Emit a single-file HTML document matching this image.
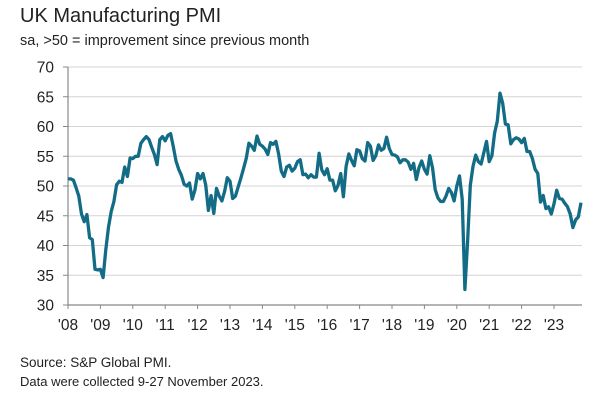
<!DOCTYPE html>
<html><head><meta charset="utf-8"><style>
body{margin:0;background:#fff;font-family:"Liberation Sans",sans-serif;}
svg{display:block}
</style></head><body>
<svg id="c" width="600" height="400">
<text x="20" y="22" font-size="20" fill="#222">UK Manufacturing PMI</text>
<text x="20" y="45" font-size="14.5" fill="#222">sa, &gt;50 = improvement since previous month</text>
<text x="20" y="367" font-size="13.5" fill="#222">Source: S&amp;P Global PMI.</text>
<text x="20" y="386" font-size="13" fill="#222">Data were collected 9-27 November 2023.</text>
<g id="grid"></g><g id="axes"></g><g id="plot"></g>
</svg>
<script>
const yTicks=[30,35,40,45,50,55,60,65,70];
const years=["'08","'09","'10","'11","'12","'13","'14","'15","'16","'17","'18","'19","'20","'21","'22","'23"];
const pmi2008=[51.2,51.2,51.0,49.7,48.3,45.3,44.0,45.2,41.3,41.0,36.0,35.9];
const pmi2009=[36.0,34.6,39.3,43.1,45.7,47.4,50.2,50.8,50.6,53.2,51.6,54.7];
const pmi2010=[54.6,55.0,55.0,57.2,57.8,58.3,57.8,56.5,55.3,53.6,57.8,58.3];
const pmi2011=[57.6,58.5,58.8,56.6,54.2,52.8,51.8,50.3,50.0,50.5,47.8,49.3];
const pmi2012=[52.1,51.2,52.1,50.2,45.9,48.4,45.4,49.6,48.3,47.5,49.1,51.4];
const pmi2013=[50.8,47.9,48.3,49.8,51.3,52.9,54.6,57.2,56.7,56.0,58.4,57.0];
const pmi2014=[56.7,56.2,55.3,57.3,57.0,57.5,55.4,52.5,51.6,53.2,53.5,52.5];
const pmi2015=[53.0,54.1,54.4,51.9,52.0,51.4,51.9,51.5,51.5,55.5,52.7,51.9];
const pmi2016=[52.9,51.0,51.0,49.2,50.1,52.1,48.2,53.3,55.4,54.3,53.4,56.1];
const pmi2017=[55.9,54.6,54.2,57.3,56.7,54.3,55.1,56.9,56.0,56.3,58.2,56.3];
const pmi2018=[55.3,55.2,54.9,53.9,54.4,54.4,54.0,52.8,53.8,51.1,53.1,54.2];
const pmi2019=[52.8,52.0,55.1,53.1,49.4,48.0,47.4,47.4,48.3,49.6,48.9,47.5];
const pmi2020=[50.0,51.7,47.8,32.6,40.7,50.1,53.3,55.2,54.1,53.7,55.6,57.5];
const pmi2021=[54.1,55.1,58.9,60.9,65.6,63.9,60.4,60.3,57.1,57.8,58.1,57.9];
const pmi2022=[57.3,58.0,55.8,55.8,54.6,52.8,52.1,47.3,48.4,46.2,46.5,45.3];
const pmi2023=[47.0,49.3,47.9,47.8,47.1,46.5,45.3,43.0,44.3,44.8,47.2];
const values=[].concat(pmi2008,pmi2009,pmi2010,pmi2011,pmi2012,pmi2013,pmi2014,pmi2015,pmi2016,pmi2017,pmi2018,pmi2019,pmi2020,pmi2021,pmi2022,pmi2023);
const NS="http://www.w3.org/2000/svg";
const x0=68,yearW=32.4,plotR=582;
const xs=m=>x0+m*yearW/12;
const ys=v=>305-(v-30)*(238/40);
function mk(t,a,p){const e=document.createElementNS(NS,t);for(const k in a)e.setAttribute(k,a[k]);p.appendChild(e);return e;}
const grid=document.getElementById('grid'),axes=document.getElementById('axes'),plot=document.getElementById('plot');
yTicks.forEach(v=>{
  if(v>30){const g=mk('line',{x1:x0,x2:plotR,y1:ys(v),y2:ys(v),stroke:'#d4d4d4','stroke-width':1},grid);
  
  }
  const t=mk('line',{x1:x0-5,x2:x0,y1:ys(v),y2:ys(v),stroke:'#888','stroke-width':1},axes);
  
  
  const l=mk('text',{x:54,y:ys(v)+5.5,'text-anchor':'end','font-size':15.5,fill:'#222'},axes);
  l.textContent=v;
  
  
});
const ya=mk('line',{x1:x0,x2:x0,y1:ys(70),y2:305,stroke:'#888','stroke-width':1.2},axes);


const xa=mk('line',{x1:x0,x2:plotR,y1:305,y2:305,stroke:'#888','stroke-width':1.2},axes);


years.forEach((y,i)=>{
  const x=xs(i*12);
  const t=mk('line',{x1:x,x2:x,y1:305,y2:309,stroke:'#888','stroke-width':1},axes);
  
  
  const l=mk('text',{x:x,y:330,'text-anchor':'middle','font-size':15.5,fill:'#222'},axes);
  l.textContent=y;
  
  
});
const pts=values.map((v,i)=>xs(i).toFixed(1)+','+ys(v).toFixed(1)).join(' ');
const pl=mk('polyline',{points:pts,fill:'none',stroke:'#136c86','stroke-width':3.3,'stroke-linejoin':'round'},plot);


</script>
</body></html>
